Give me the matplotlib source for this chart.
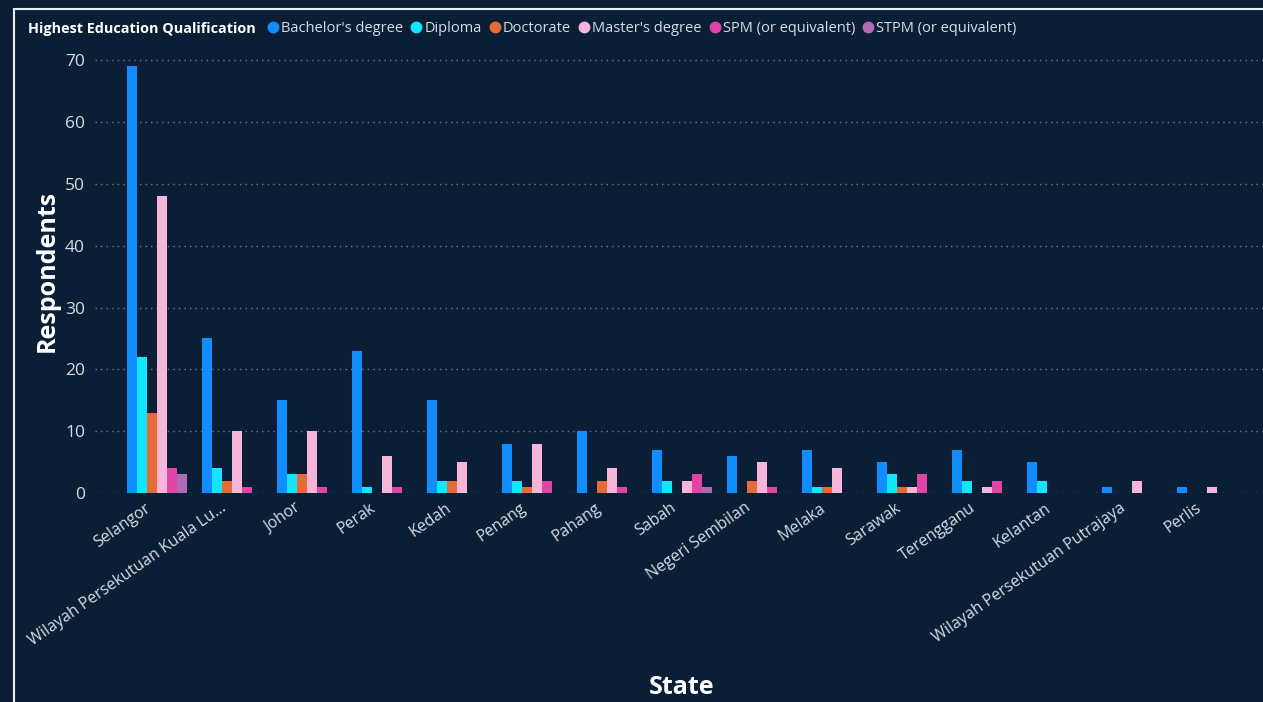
import numpy as np
import matplotlib
matplotlib.use('Agg')
import matplotlib.pyplot as plt
import matplotlib.transforms as mtransforms
from matplotlib.lines import Line2D
from matplotlib.patches import Rectangle

plt.rcParams['font.family'] = ['Open Sans', 'DejaVu Sans']

states = ['Selangor', 'Wilayah Persekutuan Kuala Lu...', 'Johor', 'Perak', 'Kedah',
          'Penang', 'Pahang', 'Sabah', 'Negeri Sembilan', 'Melaka', 'Sarawak',
          'Terengganu', 'Kelantan', 'Wilayah Persekutuan Putrajaya', 'Perlis']

qualifications = ["Bachelor's degree", 'Diploma', 'Doctorate', "Master's degree",
                  'SPM (or equivalent)', 'STPM (or equivalent)']

bachelor = [69, 25, 15, 23, 15, 8, 10, 7, 6, 7, 5, 7, 5, 1, 1]
diploma = [22, 4, 3, 1, 2, 2, 0, 2, 0, 1, 3, 2, 2, 0, 0]
doctorate = [13, 2, 3, 0, 2, 1, 2, 0, 2, 1, 1, 0, 0, 0, 0]
master = [48, 10, 10, 6, 5, 8, 4, 2, 5, 4, 1, 1, 0, 2, 1]
spm = [4, 1, 1, 1, 0, 2, 1, 3, 1, 0, 3, 2, 0, 0, 0]
stpm = [3, 0, 0, 0, 0, 0, 0, 1, 0, 0, 0, 0, 0, 0, 0]

series = [bachelor, diploma, doctorate, master, spm, stpm]
colors = ['#118DFF', '#12E5FE', '#E66C37', '#F5B6DA', '#E044A7', '#B06AB3']

BG = '#0a1f35'
TXT = '#d6dde5'

fig = plt.figure(figsize=(12.63, 7.02), dpi=100, facecolor=BG)
ax = fig.add_axes([0.075, 0.2977, 0.925, 0.634], facecolor=BG)

x = np.arange(len(states))
w = 0.8 / len(series)
for j, (vals, c) in enumerate(zip(series, colors)):
    ax.bar(x + (j - 2.5) * w, vals, width=w, color=c, zorder=3)

ax.set_xlim(-0.827, 14.75)
ax.set_ylim(0, 72)
ax.set_yticks(range(0, 71, 10))
ax.grid(axis='y', color='#6a7a8c', linestyle=(0, (1, 3)), linewidth=1.0, zorder=0)
for s in ax.spines.values():
    s.set_visible(False)
ax.tick_params(axis='both', length=0, colors=TXT)
ax.tick_params(axis='y', labelsize=12.5, pad=7)
ax.set_xticks(x)
ax.set_xticklabels(states, rotation=35, ha='right', rotation_mode='anchor', fontsize=11.5)
ax.tick_params(axis='x', pad=5)
shift = mtransforms.ScaledTranslation(-0.12, 0, fig.dpi_scale_trans)
for lbl in ax.get_xticklabels():
    lbl.set_transform(lbl.get_transform() + shift)

ax.set_ylabel('Respondents', fontsize=18, fontweight='bold', color='white', labelpad=4)
fig.text(0.54, 1 - 688 / 702, 'State', fontsize=18, fontweight='bold', color='white',
         ha='center', va='center')

# legend
fig.text(28 / 1263, 1 - 29 / 702, 'Highest Education Qualification', fontsize=10.4,
         fontweight='bold', color='white', va='center', ha='left')
handles = [Line2D([0], [0], marker='o', color='none', markerfacecolor=c,
                  markeredgecolor=c, markersize=7.5, label=q)
           for q, c in zip(qualifications, colors)]
leg = fig.legend(handles=handles, loc='center left', bbox_to_anchor=(268 / 1263, 1 - 29 / 702),
                 ncol=6, frameon=False, fontsize=10.5, handlelength=0.7, handletextpad=0.2,
                 columnspacing=0.55, borderaxespad=0, borderpad=0)
for t in leg.get_texts():
    t.set_color(TXT)

fig.add_artist(Rectangle((14 / 1263, -0.05), 1.1, 1 - 9 / 702 + 0.05,
                         transform=fig.transFigure, fill=False,
                         edgecolor='#e8edf2', linewidth=1.5))

fig.savefig('out.png', dpi=100, facecolor=BG)
